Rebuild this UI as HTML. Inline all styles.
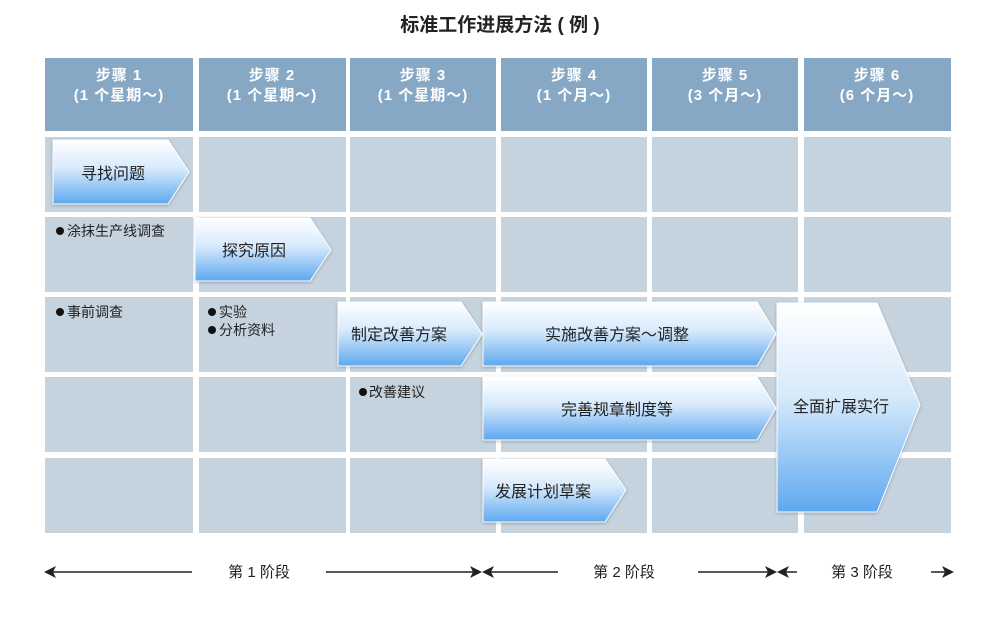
<!DOCTYPE html>
<html><head><meta charset="utf-8"><style>
html,body{margin:0;padding:0;background:#fff;}
svg{display:block;font-family:"Liberation Sans","Noto Sans CJK SC",sans-serif;}
</style></head><body>
<svg width="1000" height="620" viewBox="0 0 1000 620" xmlns="http://www.w3.org/2000/svg">
<defs>
<linearGradient id="g" x1="0" y1="0" x2="0" y2="1">
<stop offset="0" stop-color="#ffffff"/><stop offset="0.45" stop-color="#d6e9fb"/><stop offset="1" stop-color="#5ea8ef"/>
</linearGradient>
<filter id="sh" x="-10%" y="-10%" width="130%" height="130%"><feDropShadow dx="0" dy="1" stdDeviation="1.5" flood-color="#000" flood-opacity="0.25"/></filter>
</defs>
<text x="500" y="31" text-anchor="middle" font-size="19" font-weight="bold" fill="#222">标准工作进展方法 ( 例 )</text>
<g fill="#87a8c5">
<rect x="45" y="58" width="148" height="73"/><rect x="199" y="58" width="147" height="73"/><rect x="350" y="58" width="146" height="73"/>
<rect x="501" y="58" width="146" height="73"/><rect x="652" y="58" width="146" height="73"/><rect x="804" y="58" width="147" height="73"/>
</g>
<g fill="#fff" font-size="15" font-weight="bold" text-anchor="middle" letter-spacing="1">
<text x="119" y="80">步骤 1</text><text x="119" y="100">(1 个星期～)</text>
<text x="272" y="80">步骤 2</text><text x="272" y="100">(1 个星期～)</text>
<text x="423" y="80">步骤 3</text><text x="423" y="100">(1 个星期～)</text>
<text x="574" y="80">步骤 4</text><text x="574" y="100">(1 个月～)</text>
<text x="725" y="80">步骤 5</text><text x="725" y="100">(3 个月～)</text>
<text x="877" y="80">步骤 6</text><text x="877" y="100">(6 个月～)</text>
</g>
<g fill="#c5d3df">
<g id="r"><rect x="45" y="137" width="148" height="75"/><rect x="199" y="137" width="147" height="75"/><rect x="350" y="137" width="146" height="75"/><rect x="501" y="137" width="146" height="75"/><rect x="652" y="137" width="146" height="75"/><rect x="804" y="137" width="147" height="75"/></g>
<use href="#r" y="80"/><use href="#r" y="160"/><use href="#r" y="240"/><use href="#r" y="321"/>
</g>
<g fill="url(#g)" stroke="#fff" stroke-width="1" filter="url(#sh)">
<polygon points="53,140 168,140 189,172 168,204 53,204"/>
<polygon points="195,218 310,218 331,250 310,281 195,281"/>
<polygon points="338,302 461,302 482,334 461,366 338,366"/>
<polygon points="483,302 757,302 776,334 757,366 483,366"/>
<polygon points="483,377 757,377 776,408 757,440 483,440"/>
<polygon points="483,459 605,459 626,490 605,522 483,522"/>
<polygon points="777,303 877,303 920,405 877,512 777,512"/>
</g>
<g fill="#222" font-size="16">
<text x="81" y="179">寻找问题</text>
<text x="222" y="256">探究原因</text>
<text x="351" y="340">制定改善方案</text>
<text x="545" y="340">实施改善方案～调整</text>
<text x="561" y="415">完善规章制度等</text>
<text x="495" y="497">发展计划草案</text>
<text x="793" y="412">全面扩展实行</text>
</g>
<g fill="#222" font-size="14">
<text x="67" y="236">涂抹生产线调查</text>
<text x="67" y="317">事前调查</text>
<text x="219" y="317">实验</text>
<text x="219" y="335">分析资料</text>
<text x="369" y="397">改善建议</text>
</g>
<g fill="#111">
<circle cx="60" cy="231" r="4"/><circle cx="60" cy="312" r="4"/>
<circle cx="212" cy="312" r="4"/><circle cx="212" cy="330" r="4"/><circle cx="363" cy="392" r="4"/>
</g>
<g stroke="#222" stroke-width="1.5">
<line x1="46" y1="572" x2="192" y2="572"/><line x1="326" y1="572" x2="480" y2="572"/>
<line x1="484" y1="572" x2="558" y2="572"/><line x1="698" y1="572" x2="775" y2="572"/>
<line x1="779" y1="572" x2="797" y2="572"/><line x1="931" y1="572" x2="952" y2="572"/>
</g>
<g fill="#222">
<polygon points="44,572 56,566 53,572 56,578"/>
<polygon points="482,572 470,566 473,572 470,578"/>
<polygon points="482,572 494,566 491,572 494,578"/>
<polygon points="777,572 765,566 768,572 765,578"/>
<polygon points="777,572 789,566 786,572 789,578"/>
<polygon points="954,572 942,566 945,572 942,578"/>
</g>
<g fill="#222" font-size="15" text-anchor="middle">
<text x="259" y="577">第 1 阶段</text><text x="624" y="577">第 2 阶段</text><text x="862" y="577">第 3 阶段</text>
</g>
</svg>
</body></html>
